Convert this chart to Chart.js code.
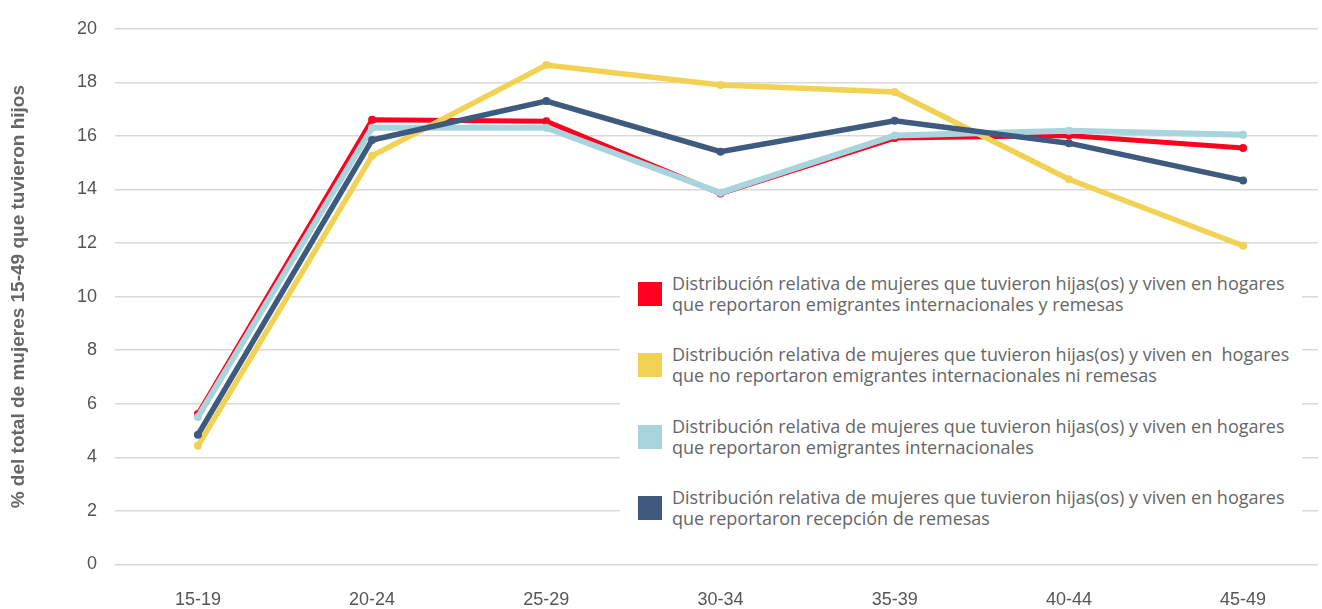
<!DOCTYPE html>
<html lang="es">
<head>
<meta charset="utf-8">
<title>Distribución relativa de mujeres que tuvieron hijas(os)</title>
<script src="https://cdn.jsdelivr.net/npm/chart.js@4.4.1/dist/chart.umd.min.js"></script>
<style>
  html, body { margin: 0; padding: 0; background: #fff; }
  #wrap { position: relative; width: 1322px; height: 609px; }
  #legend {
    position: absolute; left: 620px; top: 266px; width: 682px; height: 266px;
    background: #fff; font-family: "Open Sans", sans-serif; font-size: 18px; color: #666;
  }
  .item { position: absolute; left: 18px; display: flex; align-items: center; }
  .sw { width: 24px; height: 24px; margin-right: 10px; flex: none; }
  .txt { line-height: 20.5px; white-space: pre; }
</style>
</head>
<body>
<div id="wrap">
  <canvas id="chart" width="1322" height="609"></canvas>
  <div id="legend"></div>
</div>
<script>
// ── Data ────────────────────────────────────────────────────────
const ageGroups = ['15-19', '20-24', '25-29', '30-34', '35-39', '40-44', '45-49'];

const emigrantesYRemesas   = [5.62, 16.6, 16.55, 13.85, 15.92, 16.02, 15.55];
const sinEmigrantesRemesas = [4.43, 15.26, 18.65, 17.9, 17.64, 14.38, 11.9];
const soloEmigrantes       = [5.51, 16.31, 16.31, 13.88, 16.02, 16.19, 16.04];
const recepcionRemesas     = [4.84, 15.85, 17.3, 15.41, 16.57, 15.73, 14.34];

const seriesLabels = [
  ['Distribución relativa de mujeres que tuvieron hijas(os) y viven en hogares', 'que reportaron emigrantes internacionales y remesas'],
  ['Distribución relativa de mujeres que tuvieron hijas(os) y viven en  hogares', 'que no reportaron emigrantes internacionales ni remesas'],
  ['Distribución relativa de mujeres que tuvieron hijas(os) y viven en hogares', 'que reportaron emigrantes internacionales'],
  ['Distribución relativa de mujeres que tuvieron hijas(os) y viven en hogares', 'que reportaron recepción de remesas'],
];
const seriesColors = ['#ff0020', '#f2d255', '#a8d5dd', '#3f5a7f'];

const yTitle = '% del total de mujeres 15-49 que tuvieron hijos';

// ── Chart ───────────────────────────────────────────────────────
const toPoints = arr => arr.map((v, i) => ({ x: i, y: v }));

function makeSeries(values, idx, width, order) {
  return {
    label: seriesLabels[idx].join(' '),
    data: toPoints(values),
    borderColor: seriesColors[idx],
    backgroundColor: seriesColors[idx],
    borderWidth: width,
    pointRadius: 4,
    pointBorderWidth: 0,
    tension: 0,
    order: order,
  };
}

const tickFont = { family: '"Liberation Sans", Arial, sans-serif', size: 18 };

new Chart(document.getElementById('chart'), {
  type: 'line',
  data: {
    datasets: [
      makeSeries(emigrantesYRemesas, 0, 5, 3),
      makeSeries(sinEmigrantesRemesas, 1, 5.5, 2),
      makeSeries(soloEmigrantes, 2, 6, 1),
      makeSeries(recepcionRemesas, 3, 5.5, 0),
    ],
  },
  options: {
    responsive: false,
    animation: false,
    layout: { padding: { top: 25, right: 2, left: 0, bottom: 0 } },
    plugins: { legend: { display: false }, tooltip: { enabled: false } },
    scales: {
      x: {
        type: 'linear',
        min: -0.476,
        max: 6.43,
        grid: { display: false },
        border: { display: false },
        ticks: {
          stepSize: 1,
          includeBounds: false,
          padding: 17,
          color: '#555',
          font: tickFont,
          maxRotation: 0,
          callback: v => ageGroups[v] ?? '',
        },
        afterFit: s => { s.height = 44.5; },
      },
      y: {
        min: 0,
        max: 20,
        grid: { color: '#d9d9d9', lineWidth: 1.5, drawTicks: false },
        border: { display: false },
        ticks: { stepSize: 2, padding: 18, color: '#555', font: tickFont },
        title: {
          display: true,
          text: yTitle,
          color: '#666',
          font: { family: '"Liberation Sans", Arial, sans-serif', size: 19, weight: 'bold' },
          padding: { top: 7, bottom: 0 },
        },
        afterFit: s => { s.width = 115; },
      },
    },
  },
});

// ── Legend (HTML overlay, white box over the grid) ──────────────
const legendEl = document.getElementById('legend');
const itemTops = [7, 78, 150, 221];
seriesLabels.forEach((lines, i) => {
  const item = document.createElement('div');
  item.className = 'item';
  item.style.top = itemTops[i] + 'px';
  const sw = document.createElement('div');
  sw.className = 'sw';
  sw.style.background = seriesColors[i];
  const txt = document.createElement('div');
  txt.className = 'txt';
  txt.textContent = lines.join('\n');
  item.appendChild(sw);
  item.appendChild(txt);
  legendEl.appendChild(item);
});
</script>
</body>
</html>
